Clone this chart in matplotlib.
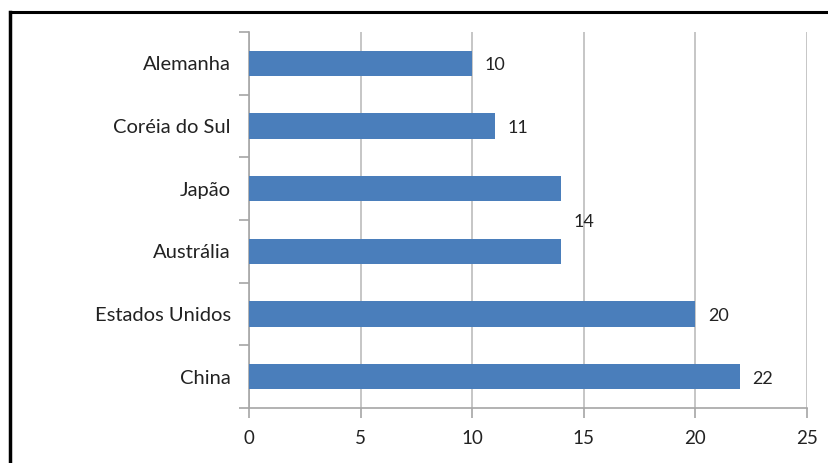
import matplotlib
matplotlib.use("Agg")
import matplotlib.pyplot as plt
from matplotlib.lines import Line2D
from matplotlib.ticker import FixedLocator
import numpy as np

categories = ["China", "Estados Unidos", "Austrália", "Japão", "Coréia do Sul", "Alemanha"]
values = [22, 20, 14, 14, 11, 10]
xticks = [0, 5, 10, 15, 20, 25]

plt.rcParams['font.family'] = ['Lato', 'DejaVu Sans']

fig = plt.figure(figsize=(8.29, 4.63), dpi=100)
ax = fig.add_axes([249/829, 1-408/463, (807-249)/829, (408-32)/463])

y = np.arange(len(categories))
bar_color = "#4a7ebb"
ax.barh(y, values, height=0.4, color=bar_color, zorder=3)

ax.set_xlim(0, 25)
ax.set_ylim(-0.5, len(categories) - 0.5)
ax.set_xticks(xticks)
ax.set_xticklabels([str(t) for t in xticks])
ax.set_yticks(y)
ax.set_yticklabels(categories)
ax.yaxis.set_minor_locator(FixedLocator(np.arange(-0.5, len(categories), 1.0)))

ax.grid(axis='x', color="#bcbcbc", linewidth=1.2, zorder=0)
for s in ['top', 'right']:
    ax.spines[s].set_visible(False)
for s in ['left', 'bottom']:
    ax.spines[s].set_color("#a6a6a6")
    ax.spines[s].set_linewidth(1.2)

ax.tick_params(axis='x', length=7, color="#a6a6a6", width=1.2, pad=9, labelsize=13.5, labelcolor="#222222")
ax.tick_params(axis='y', which='major', length=0, pad=13, labelsize=14.5, labelcolor="#222222")
ax.tick_params(axis='y', which='minor', length=7, color="#a6a6a6", width=1.2)

# data labels (identical values on adjacent bars share one label between them)
done = set()
for i, v in enumerate(values):
    if v in done:
        continue
    idx = [j for j, w in enumerate(values) if w == v]
    ypos = np.mean([y[j] for j in idx])
    ax.annotate(str(v), xy=(v, ypos), xytext=(9, -1.5), textcoords='offset points',
                va='center', ha='left', fontsize=13, color="#222222")
    done.add(v)

# frame lines (partial border of the original image)
fig.add_artist(Line2D([10/829, 1], [1-12/463, 1-12/463], transform=fig.transFigure,
                      color="black", linewidth=2.2))
fig.add_artist(Line2D([10/829, 10/829], [0, 1-12/463], transform=fig.transFigure,
                      color="black", linewidth=2.5))

fig.savefig("out.png", dpi=100)
